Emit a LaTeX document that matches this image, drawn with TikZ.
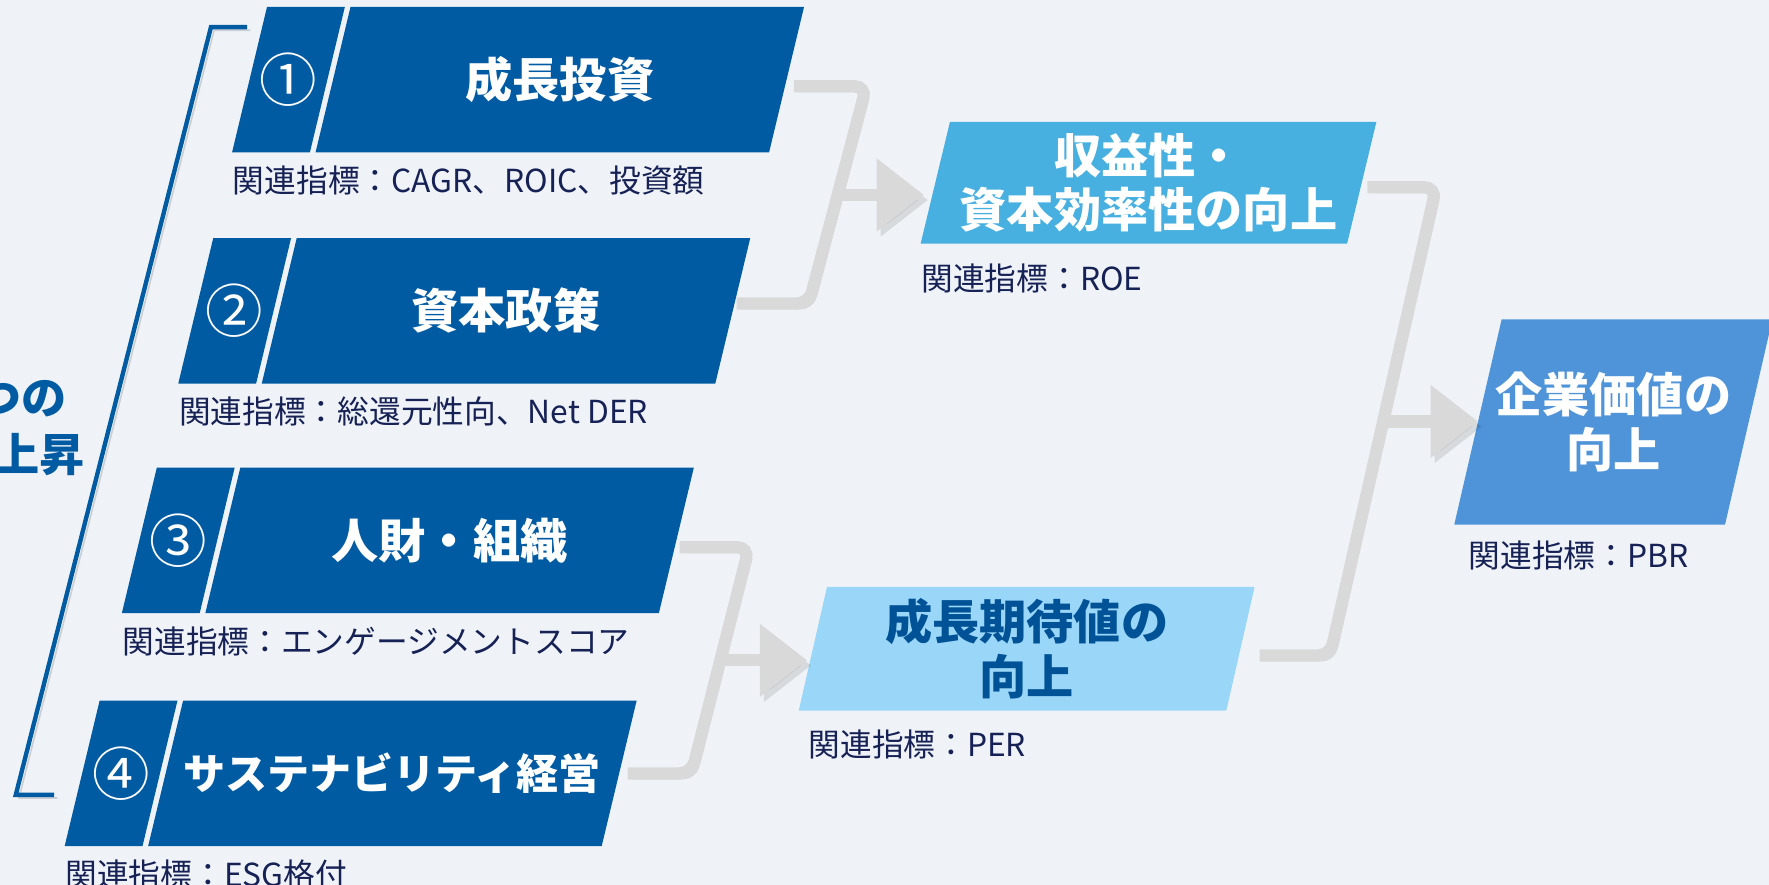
\documentclass[tikz,border=0pt]{standalone}
\usepackage{fontspec}
\setmainfont{Noto Sans CJK JP}
\usetikzlibrary{arrows.meta,positioning,calc,backgrounds}
\definecolor{bgpale}{RGB}{239,243,247}
\definecolor{navy}{RGB}{0,91,163}
\definecolor{skyblue}{RGB}{71,176,225}
\definecolor{paleblue}{RGB}{153,214,248}
\definecolor{midblue}{RGB}{79,148,217}
\definecolor{deepblue}{RGB}{0,82,150}
\definecolor{linkgray}{RGB}{217,217,217}
\definecolor{infonavy}{RGB}{22,33,85}

\begin{document}
\begin{tikzpicture}[
  font=\fontsize{8}{10}\selectfont,
  >={Triangle[length=0.42cm,width=0.62cm]},
  slab/.style={rectangle, inner sep=0pt, outer sep=0pt, minimum height=1.29cm},
  num/.style={slab, minimum width=0.69cm, text=white, font=\fontsize{14.5}{16}\selectfont},
  pillar/.style={slab, minimum width=4.02cm, text=white, font=\bfseries\fontsize{11.9}{14}\selectfont},
  goal/.style={slab, align=center, font=\bfseries\fontsize{11.9}{13.7}\selectfont},
  info/.style={anchor=west, inner sep=0pt, text=infonavy, font=\fontsize{8}{10}\selectfont},
  lead/.style={anchor=east, inner sep=0pt, text=navy, font=\bfseries\fontsize{11.4}{13}\selectfont},
  bracket/.style={draw=navy, line width=1.1pt, preaction={draw=black, opacity=0.15, transform canvas={xshift=0.8pt,yshift=-0.8pt}}},
  link/.style={draw=linkgray, line width=3.1pt, rounded corners=3pt, preaction={draw=black, opacity=0.10, transform canvas={xshift=1pt,yshift=-1.3pt}}},
  flow/.style={link, ->, rounded corners=0pt}
]

% Canvas
\begin{scope}[on background layer]
  \fill[bgpale, use as bounding box] (0,0) rectangle (15.68,-7.84);
\end{scope}
\clip (0,0) rectangle (15.68,-7.84);

% Lead text, cut by the left edge
\node[lead] (lead1) at (0.60,-3.53) {つの};
\node[lead] (lead2) at (0.76,-4.03) {上昇};

% Bracket round the four pillars
\coordinate (brTa) at (2.19,-0.24);
\coordinate (brTb) at (1.87,-0.24);
\coordinate (brBb) at (0.14,-7.045);
\coordinate (brBa) at (0.48,-7.045);
\draw[bracket] (brTa) -- (brTb) -- (brBb) -- (brBa);

% Pillar 1
\node[num] (n1) at (2.557,-0.705) {①};
\node[pillar, right=0.05cm of n1] (p1) {成長投資};
\node[info] (i1) at ([xshift=-0.155cm,yshift=-0.25cm]n1.south west) {関連指標：CAGR、ROIC、投資額};

% Pillar 2
\node[num] (n2) at (2.08,-2.755) {②};
\node[pillar, right=0.05cm of n2] (p2) {資本政策};
\node[info] (i2) at ([xshift=-0.155cm,yshift=-0.25cm]n2.south west) {関連指標：総還元性向、Net DER};

% Pillar 3
\node[num] (n3) at (1.58,-4.79) {③};
\node[pillar, right=0.05cm of n3] (p3) {人財・組織};
\node[info] (i3) at ([xshift=-0.155cm,yshift=-0.25cm]n3.south west) {関連指標：エンゲージメントスコア};

% Pillar 4
\node[num] (n4) at (1.073,-6.855) {④};
\node[pillar, right=0.05cm of n4, font=\bfseries\fontsize{10.6}{13}\selectfont] (p4) {サステナビリティ経営};
\node[info] (i4) at ([xshift=-0.155cm,yshift=-0.25cm]n4.south west) {関連指標：ESG格付};

% Goals
\node[goal, minimum width=3.78cm, minimum height=1.08cm, text=white] (g1) at (10.18,-1.62) {収益性・\\資本効率性の向上};
\node[info] (gi1) at ([xshift=-0.13cm,yshift=-0.31cm]g1.south west) {関連指標：ROE};

\node[goal, minimum width=3.79cm, minimum height=1.095cm, text=deepblue] (g2) at (9.10,-5.75) {成長期待値の\\向上};
\node[info] (gi2) at ([xshift=-0.045cm,yshift=-0.30cm]g2.south west) {関連指標：PER};

\node[goal, minimum width=2.40cm, minimum height=1.82cm, text=white] (g3) at (14.30,-3.74) {企業価値の\\向上};
\node[info] (gi3) at ([xshift=-0.09cm,yshift=-0.27cm]g3.south west) {関連指標：PBR};

% Slanted fills behind the boxes
\begin{scope}[on background layer]
  \foreach \nd/\col/\s in {n1/navy/0.155, p1/navy/0.155, n2/navy/0.155, p2/navy/0.155,
                           n3/navy/0.155, p3/navy/0.155, n4/navy/0.155, p4/navy/0.155,
                           g1/skyblue/0.13, g2/paleblue/0.125, g3/midblue/0.21}{
    \fill[\col] ([xshift=-\s cm]\nd.south west) -- ([xshift=\s cm]\nd.north west)
      -- ([xshift=\s cm]\nd.north east) -- ([xshift=-\s cm]\nd.south east) -- cycle;
  }
\end{scope}

% Links: pillars 1+2 to g1
\coordinate (aT) at (7.68,-0.765);
\coordinate (aB) at (7.17,-2.69);
\coordinate (aM) at ($(aT)!0.5!(aB)$);
\draw[link] ([xshift=0.065cm,yshift=-0.06cm]p1.east) -- (aT) -- (aB) -- ([xshift=0.035cm,yshift=0.065cm]p2.east);
\draw[flow, shorten >=0.1cm] (aM) -- (aM -| g1.west);

% Links: pillars 3+4 to g2
\coordinate (bT) at (6.64,-4.85);
\coordinate (bB) at (6.13,-6.855);
\coordinate (bM) at ($(bT)!0.5!(bB)$);
\draw[link] ([xshift=0.03cm,yshift=-0.06cm]p3.east) -- (bT) -- (bB) -- ([xshift=0.075cm]p4.east);
\draw[flow, shorten >=0.05cm] (bM) -- (bM -| g2.west);

% Links: g1+g2 to g3
\coordinate (cT) at (12.73,-1.66);
\coordinate (cB) at (11.79,-5.81);
\coordinate (cM) at ($(cT)!0.5!(cB)$);
\draw[link] ([xshift=0.05cm,yshift=-0.04cm]g1.east) -- (cT) -- (cB) -- ([xshift=0.17cm,yshift=-0.06cm]g2.east);
\draw[flow] (cM) -- (cM -| g3.west);

\end{tikzpicture}
\end{document}
